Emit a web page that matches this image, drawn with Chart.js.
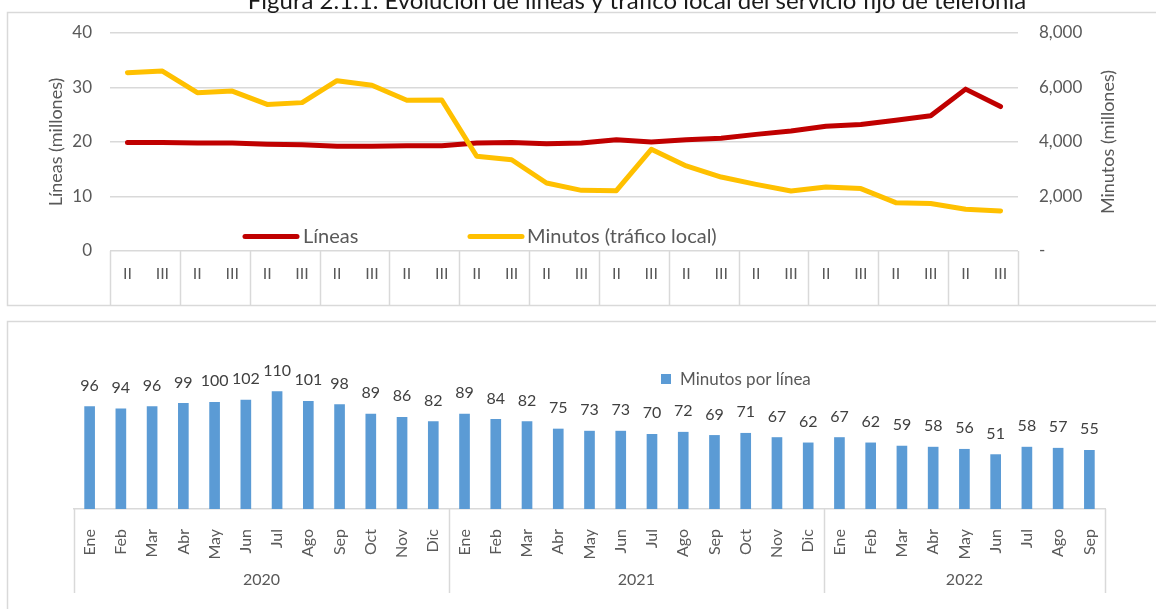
<!DOCTYPE html>
<html>
<head>
<meta charset="utf-8">
<script src="https://cdn.jsdelivr.net/npm/chart.js@4.4.1/dist/chart.umd.min.js"></script>
<style>
  body { margin: 0; background: #fff; width: 1156px; height: 609px; overflow: hidden; position: relative; }
  #topChart { position: absolute; left: 0; top: 0; }
  #bottomChart { position: absolute; left: 0; top: 310px; }
</style>
</head>
<body>
<canvas id="topChart" width="1156" height="310"></canvas>
<canvas id="bottomChart" width="1156" height="299"></canvas>
<script>
// Top chart data (quarters II / III, 13 periods)
var quarterLabels = ['II', 'III', 'II', 'III', 'II', 'III', 'II', 'III', 'II', 'III', 'II', 'III', 'II',
  'III', 'II', 'III', 'II', 'III', 'II', 'III', 'II', 'III', 'II', 'III', 'II', 'III'];
var lineas = [19.9, 19.9, 19.8, 19.8, 19.6, 19.5, 19.2, 19.2, 19.3, 19.3, 19.8, 19.9, 19.7,
  19.8, 20.4, 20.0, 20.4, 20.7, 21.4, 22.0, 22.9, 23.2, 24.0, 24.8, 29.7, 26.5];
var minutos = [6545, 6605, 5810, 5870, 5380, 5445, 6250, 6080, 5530, 5540, 3475, 3350, 2495,
  2225, 2215, 3730, 3120, 2715, 2445, 2200, 2350, 2290, 1775, 1740, 1530, 1470];
var lineasTicks = [0, 10, 20, 30, 40];
var minutosTicks = [0, 2000, 4000, 6000, 8000];

// Bottom chart data (monthly)
var meses = ['Ene', 'Feb', 'Mar', 'Abr', 'May', 'Jun', 'Jul', 'Ago', 'Sep', 'Oct', 'Nov', 'Dic',
  'Ene', 'Feb', 'Mar', 'Abr', 'May', 'Jun', 'Jul', 'Ago', 'Sep', 'Oct', 'Nov', 'Dic',
  'Ene', 'Feb', 'Mar', 'Abr', 'May', 'Jun', 'Jul', 'Ago', 'Sep'];
var anios = ['2020', '2021', '2022'];
var mesesPorAnio = [12, 12, 9];
var minPorLinea = [96, 94, 96, 99, 100, 102, 110, 101, 98, 89, 86, 82,
  89, 84, 82, 75, 73, 73, 70, 72, 69, 71, 67, 62,
  67, 62, 59, 58, 56, 51, 58, 57, 55];

var titulo = 'Figura 2.1.1. Evolución de líneas y tráfico local del servicio fijo de telefonía';
var gris = '#595959';
var borde = '#d9d9d9';

Chart.defaults.font.family = 'Lato, "Open Sans", sans-serif';
Chart.defaults.color = gris;

// frame, title, legend, axis titles and category boxes for the top chart
var topDecor = {
  id: 'topDecor',
  beforeDraw: function(chart) {
    var ctx = chart.ctx;
    ctx.save();
    ctx.strokeStyle = borde;
    ctx.lineWidth = 1.5;
    ctx.strokeRect(7.5, 12.5, 1300, 293);
    ctx.restore();
  },
  afterDraw: function(chart) {
    var ctx = chart.ctx;
    var x = chart.scales.x;
    var area = chart.chartArea;
    ctx.save();
    // category boxes
    ctx.strokeStyle = borde;
    ctx.lineWidth = 1.5;
    var step = x.width / quarterLabels.length;
    for (var i = 0; i <= quarterLabels.length; i += 2) {
      var px = Math.round(x.left + i * step) + 0.5;
      ctx.beginPath();
      ctx.moveTo(px, area.bottom);
      ctx.lineTo(px, 305);
      ctx.stroke();
    }
    // title
    ctx.fillStyle = '#1a1a1a';
    ctx.font = '24px Lato';
    ctx.textAlign = 'center';
    ctx.textBaseline = 'alphabetic';
    ctx.fillText(titulo, 637, 9);
    // legend
    ctx.lineCap = 'round';
    ctx.lineWidth = 5;
    ctx.strokeStyle = '#c00000';
    ctx.beginPath(); ctx.moveTo(245, 236.5); ctx.lineTo(297, 236.5); ctx.stroke();
    ctx.strokeStyle = '#ffc000';
    ctx.beginPath(); ctx.moveTo(470, 236.5); ctx.lineTo(522, 236.5); ctx.stroke();
    ctx.fillStyle = gris;
    ctx.font = '20px Lato';
    ctx.textAlign = 'left';
    ctx.textBaseline = 'middle';
    ctx.fillText('Líneas', 303, 237);
    ctx.fillText('Minutos (tráfico local)', 527, 237);
    // axis titles
    ctx.font = '18px Lato';
    ctx.textAlign = 'center';
    ctx.save();
    ctx.translate(56, 142);
    ctx.rotate(-Math.PI / 2);
    ctx.fillText('Líneas (millones)', 0, 0);
    ctx.restore();
    ctx.save();
    ctx.translate(1108, 142);
    ctx.rotate(-Math.PI / 2);
    ctx.fillText('Minutos (millones)', 0, 0);
    ctx.restore();
    ctx.restore();
  }
};

new Chart(document.getElementById('topChart'), {
  type: 'line',
  data: {
    labels: quarterLabels,
    datasets: [{
      label: 'Líneas',
      data: lineas,
      borderColor: '#c00000',
      borderWidth: 5,
      borderCapStyle: 'round',
      borderJoinStyle: 'round',
      pointRadius: 0,
      tension: 0,
      yAxisID: 'y',
      order: 1
    }, {
      label: 'Minutos (tráfico local)',
      data: minutos,
      borderColor: '#ffc000',
      borderWidth: 5,
      borderCapStyle: 'round',
      borderJoinStyle: 'round',
      pointRadius: 0,
      tension: 0,
      yAxisID: 'y1',
      order: 0
    }]
  },
  options: {
    responsive: false,
    animation: false,
    layout: { padding: { top: 33, left: 0, right: 0, bottom: 0 } },
    plugins: { legend: { display: false }, tooltip: { enabled: false } },
    scales: {
      x: {
        offset: true,
        grid: { display: false, drawTicks: false },
        border: { display: false },
        ticks: { autoSkip: false, maxRotation: 0, padding: 13, font: { size: 16 }, color: gris },
        afterFit: function(s) { s.height = 59; }
      },
      y: {
        position: 'left',
        min: 0,
        max: 40,
        afterBuildTicks: function(s) { s.ticks = lineasTicks.map(function(v) { return { value: v }; }); },
        grid: { color: borde, lineWidth: 1.5, drawTicks: false },
        border: { display: false },
        ticks: { padding: 18, font: { size: 17 }, color: gris },
        afterFit: function(s) { s.width = 110; }
      },
      y1: {
        position: 'right',
        min: 0,
        max: 8000,
        afterBuildTicks: function(s) { s.ticks = minutosTicks.map(function(v) { return { value: v }; }); },
        grid: { display: false, drawTicks: false },
        border: { display: false },
        ticks: {
          padding: 21,
          font: { size: 17 },
          color: gris,
          callback: function(v) { return v === 0 ? '-' : v.toLocaleString('en-US'); }
        },
        afterFit: function(s) { s.width = 138; }
      }
    }
  },
  plugins: [topDecor]
});

// frame, legend, data labels and year boxes for the bottom chart
var bottomDecor = {
  id: 'bottomDecor',
  beforeDraw: function(chart) {
    var ctx = chart.ctx;
    ctx.save();
    ctx.strokeStyle = borde;
    ctx.lineWidth = 1.5;
    ctx.strokeRect(7.5, 11.5, 1300, 400);
    ctx.restore();
  },
  afterDatasetsDraw: function(chart) {
    var ctx = chart.ctx;
    var meta = chart.getDatasetMeta(0);
    ctx.save();
    ctx.fillStyle = '#404040';
    ctx.font = '16px Lato';
    ctx.textAlign = 'center';
    ctx.textBaseline = 'middle';
    meta.data.forEach(function(bar, i) {
      ctx.fillText(String(minPorLinea[i]), bar.x, bar.y - 21);
    });
    ctx.restore();
  },
  afterDraw: function(chart) {
    var ctx = chart.ctx;
    var x = chart.scales.x;
    var area = chart.chartArea;
    var step = x.width / meses.length;
    ctx.save();
    ctx.strokeStyle = borde;
    ctx.lineWidth = 1.5;
    ctx.fillStyle = gris;
    ctx.font = '16px Lato';
    ctx.textAlign = 'center';
    ctx.textBaseline = 'middle';
    var start = 0;
    var edges = [0];
    mesesPorAnio.forEach(function(n) { start += n; edges.push(start); });
    edges.forEach(function(e) {
      var px = Math.round(x.left + e * step) + 0.5;
      ctx.beginPath();
      ctx.moveTo(px, area.bottom);
      ctx.lineTo(px, 283);
      ctx.stroke();
    });
    anios.forEach(function(a, i) {
      var cx = x.left + (edges[i] + edges[i + 1]) / 2 * step;
      ctx.fillText(a, cx, 270);
    });
    // legend
    ctx.fillStyle = '#5b9bd5';
    ctx.fillRect(661, 64, 10, 10);
    ctx.fillStyle = gris;
    ctx.font = '17px Lato';
    ctx.textAlign = 'left';
    ctx.fillText('Minutos por línea', 680, 70);
    ctx.restore();
  }
};

new Chart(document.getElementById('bottomChart'), {
  type: 'bar',
  data: {
    labels: meses,
    datasets: [{
      label: 'Minutos por línea',
      data: minPorLinea,
      backgroundColor: '#5b9bd5',
      barThickness: 10
    }]
  },
  options: {
    responsive: false,
    animation: false,
    layout: { padding: { left: 74, right: 51, top: 71, bottom: 0 } },
    plugins: { legend: { display: false }, tooltip: { enabled: false } },
    scales: {
      x: {
        offset: true,
        grid: { display: false },
        border: { display: true, color: borde, width: 1.5 },
        ticks: { autoSkip: false, minRotation: 90, maxRotation: 90, padding: 12, font: { size: 16 }, color: gris },
        afterFit: function(s) { s.height = 100; }
      },
      y: { display: false, min: 0, max: 120 }
    }
  },
  plugins: [bottomDecor]
});
</script>
</body>
</html>
